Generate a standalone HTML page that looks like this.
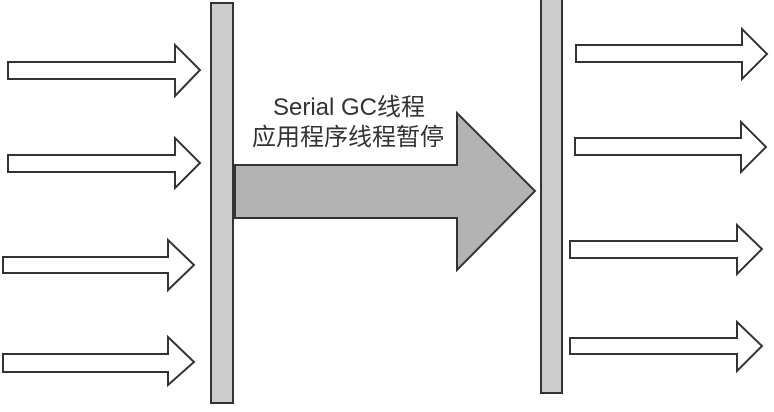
<!DOCTYPE html>
<html><head><meta charset="utf-8"><style>
html,body{margin:0;padding:0;background:#fff;}
svg{display:block}
</style></head><body>
<svg width="774" height="412" viewBox="0 0 774 412" xmlns="http://www.w3.org/2000/svg">
<g fill="#fff" stroke="#333" stroke-width="2" stroke-linejoin="miter">
<polygon points="8,62 175,62 175,45 200,70 175,96 175,79 8,79"/>
<polygon points="8,155 175,155 175,138 200,163 175,188 175,172 8,172"/>
<polygon points="3,257 168,257 168,240 194,265 168,290 168,273 3,273"/>
<polygon points="3,354 168,354 168,337 194,362 168,385 168,372 3,372"/>
<polygon points="576,45 742,45 742,29 767,54 742,79 742,62 576,62"/>
<polygon points="575,138 741,138 741,122 766,147 741,172 741,155 575,155"/>
<polygon points="570,241 737,241 737,225 762,249 737,274 737,258 570,258"/>
<polygon points="570,338 737,338 737,322 762,346 737,371 737,354 570,354"/>
</g>
<rect x="211" y="3" width="22" height="400" fill="#cccccc" stroke="#333" stroke-width="2"/>
<rect x="541" y="-2" width="21" height="395" fill="#cccccc" stroke="#333" stroke-width="2"/>
<polygon points="235,165 457,165 457,113 535,191 457,270 457,218 235,218" fill="#b3b3b3" stroke="#333" stroke-width="2"/>
<g font-family="'Liberation Sans','Noto Sans CJK SC',sans-serif" font-size="24" fill="#333" text-anchor="middle">
<text x="349" y="115">Serial GC线程</text>
<text x="348" y="145">应用程序线程暂停</text>
</g>
</svg>
</body></html>
